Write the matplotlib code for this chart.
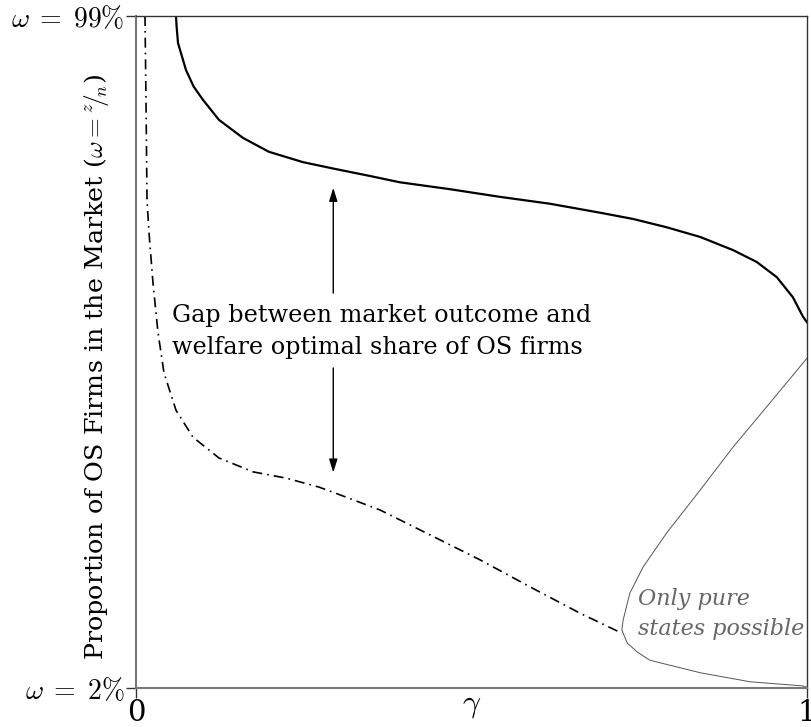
import matplotlib
matplotlib.use("Agg")
import matplotlib.pyplot as plt

plt.rcParams['font.family'] = ['DejaVu Serif']
plt.rcParams['mathtext.fontset'] = 'cm'

# Market outcome (solid)
market_gamma = [0.0596, 0.0605, 0.0626, 0.0745, 0.086, 0.0998, 0.1237, 0.1595, 0.198, 0.249,
                0.298, 0.349, 0.393, 0.468, 0.542, 0.617, 0.692, 0.741, 0.791, 0.841,
                0.890, 0.925, 0.955, 0.979, 0.994, 1.0]
market_omega = [0.99, 0.975, 0.951, 0.912, 0.888, 0.869, 0.840, 0.814, 0.794, 0.779,
                0.769, 0.759, 0.750, 0.740, 0.729, 0.719, 0.706, 0.697, 0.685, 0.671,
                0.652, 0.635, 0.613, 0.584, 0.556, 0.548]

# Welfare optimum (dash-dot)
welfare_gamma = [0.0134, 0.0149, 0.0164, 0.0194, 0.0253, 0.0328, 0.0417, 0.0596, 0.0849, 0.1237,
                 0.1744, 0.2235, 0.2727, 0.298, 0.3636, 0.4382, 0.5127, 0.5872, 0.6617, 0.7243]
welfare_omega = [0.99, 0.869, 0.724, 0.677, 0.605, 0.533, 0.475, 0.421, 0.382, 0.352,
                 0.332, 0.323, 0.310, 0.301, 0.277, 0.241, 0.205, 0.166, 0.128, 0.099]

# Pure-states boundary (thin grey)
bound_gamma = [1.0, 0.940, 0.890, 0.841, 0.791, 0.756, 0.736, 0.726, 0.724, 0.732,
               0.747, 0.766, 0.841, 0.915, 0.994, 1.0]
bound_omega = [0.496, 0.426, 0.368, 0.306, 0.244, 0.195, 0.157, 0.118, 0.104, 0.085,
               0.072, 0.060, 0.042, 0.029, 0.023, 0.021]

x_ticks = [0, 1]
x_ticklabels = ['0', '1']
y_ticks = [0.02, 0.99]
y_ticklabels = [r'$\omega\;=\;2\%$', r'$\omega\;=\;99\%$']

fig = plt.figure(figsize=(8.11, 7.27), dpi=100)
ax = fig.add_axes([136/811, 1-688/727, (807-136)/811, (688-16)/727])

ax.plot(market_gamma, market_omega, color='black', lw=1.6, solid_joinstyle='round')
ax.plot(welfare_gamma, welfare_omega, color='black', lw=1.2, linestyle=(0, (6, 3, 1, 3)))
ax.plot(bound_gamma, bound_omega, color='#555555', lw=0.7)

ax.set_xlim(0, 1)
ax.set_ylim(0.02, 0.99)
ax.set_xticks(x_ticks)
ax.set_xticklabels(x_ticklabels, fontsize=21)
ax.set_yticks(y_ticks)
ax.set_yticklabels(y_ticklabels, fontsize=20)
ax.tick_params(axis='both', direction='out', length=7, width=1, color='#333333', pad=1)

for s in ['left', 'bottom']:
    ax.spines[s].set_color('#777777')
    ax.spines[s].set_linewidth(1.5)
for s in ['top', 'right']:
    ax.spines[s].set_color('#333333')
    ax.spines[s].set_linewidth(1.0)

ax.set_xlabel(r'$\gamma$', fontsize=23)
ax.xaxis.set_label_coords(0.5, -0.002)
ax.set_ylabel(r'Proportion of OS Firms in the Market ($\omega = {}^{z}\!/\!_{n}$)', fontsize=18.3)
ax.yaxis.set_label_coords(-0.038, 0.478)

ax.annotate('', xy=(0.294, 0.746), xytext=(0.294, 0.586),
            arrowprops=dict(arrowstyle='-|>,head_length=0.8,head_width=0.25', color='black', lw=1))
ax.annotate('', xy=(0.294, 0.327), xytext=(0.294, 0.486),
            arrowprops=dict(arrowstyle='-|>,head_length=0.8,head_width=0.25', color='black', lw=1))
ax.text(0.054, 0.534, 'Gap between market outcome and\nwelfare optimal share of OS firms',
        fontsize=17.2, ha='left', va='center', linespacing=1.5)
ax.text(0.748, 0.127, 'Only pure\nstates possible', fontsize=16, style='italic',
        color='#666666', ha='left', va='center', linespacing=1.45)

fig.savefig('out.png', dpi=100)
